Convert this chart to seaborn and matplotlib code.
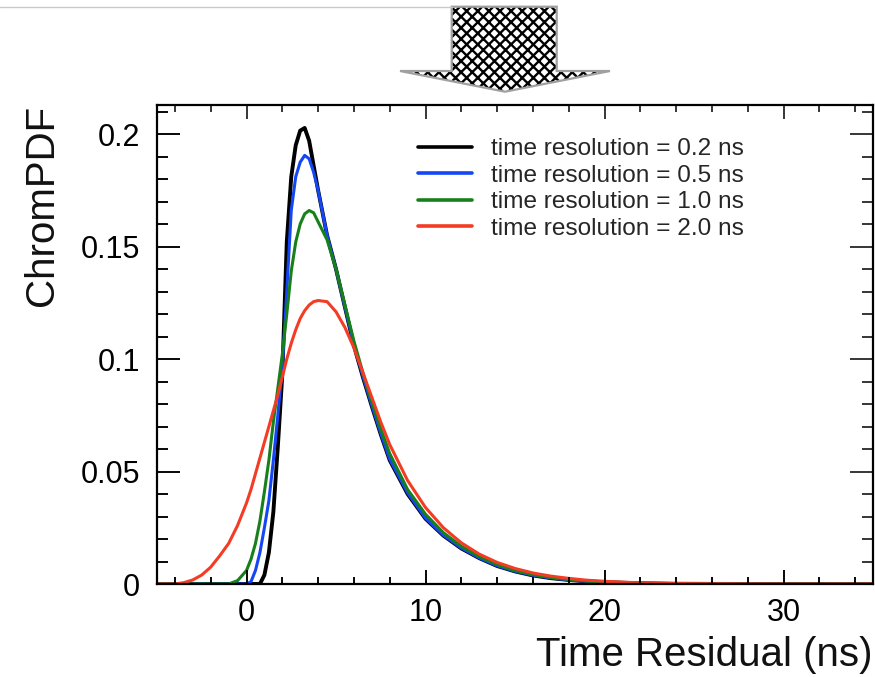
import numpy as np
import pandas as pd
import matplotlib
matplotlib.use("Agg")
import matplotlib.pyplot as plt
import seaborn as sns
from matplotlib.patches import Polygon
from matplotlib.lines import Line2D
from matplotlib.ticker import MultipleLocator, FuncFormatter

# ---------------- data ----------------
time_residual = [-5, -4.5, -4, -3.5, -3, -2.5, -2, -1.5, -1, -0.5,
                 0, 0.25, 0.5, 0.75, 1.0, 1.25, 1.5, 1.75, 2.0, 2.25, 2.5, 2.75,
                 3.0, 3.25, 3.5, 3.75, 4.0,
                 4.5, 5.0, 5.5, 6.0, 6.5, 7.0, 7.5, 8.0,
                 9, 10, 11, 12, 13, 14, 15, 16, 17, 18, 19, 20,
                 22, 24, 26, 28, 30, 32, 35]

pdf_res_02 = [0, 0, 0, 0, 0, 0, 0, 0, 0, 0,
              0, 0, 0, 0, 0.004, 0.014, 0.032, 0.061, 0.093, 0.152, 0.181, 0.195,
              0.2015, 0.2027, 0.197, 0.186, 0.175,
              0.155, 0.140, 0.123, 0.106, 0.092, 0.079, 0.0665, 0.055,
              0.040, 0.029, 0.0215, 0.0158, 0.0115, 0.0080, 0.0056, 0.0038, 0.0026, 0.0018, 0.0012, 0.0008,
              0.0003, 0.0001, 0.00004, 0.00001, 0, 0, 0]

pdf_res_05 = [0, 0, 0, 0, 0, 0, 0, 0, 0, 0,
              0, 0.001, 0.006, 0.014, 0.025, 0.037, 0.055, 0.075, 0.096, 0.130, 0.166, 0.181,
              0.1875, 0.1905, 0.189, 0.183, 0.175,
              0.155, 0.140, 0.123, 0.1065, 0.0925, 0.0795, 0.067, 0.0555,
              0.0405, 0.0293, 0.0217, 0.016, 0.0116, 0.0081, 0.0057, 0.0039, 0.0027, 0.0018, 0.0012, 0.0008,
              0.0003, 0.0001, 0.00004, 0.00001, 0, 0, 0]

pdf_res_10 = [0, 0, 0, 0, 0, 0, 0, 0, 0, 0.0015,
              0.006, 0.011, 0.018, 0.028, 0.041, 0.055, 0.072, 0.087, 0.102, 0.120, 0.139, 0.152,
              0.160, 0.1645, 0.166, 0.165, 0.161,
              0.153, 0.140, 0.124, 0.108, 0.094, 0.081, 0.069, 0.058,
              0.042, 0.031, 0.0228, 0.0168, 0.0122, 0.0086, 0.0060, 0.0042, 0.0029, 0.0020, 0.0013, 0.0009,
              0.0004, 0.00015, 0.00005, 0.00002, 0, 0, 0]

pdf_res_20 = [0, 0, 0, 0.0006, 0.0018, 0.004, 0.0075, 0.0125, 0.018, 0.026,
              0.036, 0.042, 0.049, 0.056, 0.063, 0.070, 0.077, 0.084, 0.092, 0.100, 0.107, 0.113,
              0.118, 0.1215, 0.124, 0.1255, 0.126,
              0.1255, 0.121, 0.114, 0.105, 0.094, 0.083, 0.072, 0.062,
              0.046, 0.034, 0.025, 0.0183, 0.0133, 0.0096, 0.0069, 0.0049, 0.0035, 0.0025, 0.0017, 0.0012,
              0.0005, 0.0002, 0.0001, 0.00003, 0, 0, 0]

series_labels = ["time resolution = 0.2 ns", "time resolution = 0.5 ns",
                 "time resolution = 1.0 ns", "time resolution = 2.0 ns"]
series_colors = ["#000000", "#1446f5", "#17801a", "#f43c24"]
x_label = "Time Residual (ns)"
y_label = "ChromPDF"

# ---------------- styling ----------------
sns.set_theme(style="ticks")
plt.rcParams["font.family"] = ["Liberation Sans", "DejaVu Sans"]
plt.rcParams["hatch.linewidth"] = 1.7

fig = plt.figure(figsize=(8.75, 6.77), dpi=100)
W, H = 875.0, 677.0
ax_h_px, ax_w_px = 584 - 105, 873 - 157
ax = fig.add_axes([157 / W, 1 - 584 / H, ax_w_px / W, ax_h_px / H])
ax.set_axisbelow(False)

frames = []
for lab, vals in zip(series_labels, [pdf_res_02, pdf_res_05, pdf_res_10, pdf_res_20]):
    frames.append(pd.DataFrame({"t": time_residual, "pdf": vals, "series": lab}))
df = pd.concat(frames, ignore_index=True)

handles = []
for lab, col, lw in zip(series_labels, series_colors, [2.8, 2.2, 2.2, 2.2]):
    sub = df[df["series"] == lab]
    sns.lineplot(data=sub, x="t", y="pdf", ax=ax, color=col, lw=lw, label=lab,
                 sort=False, estimator=None)
    handles.append(ax.lines[-1])

for s in ax.spines.values():
    s.set_edgecolor("black")
    s.set_linewidth(1.6)

ax.set_xlabel(x_label, fontsize=29, loc="right", labelpad=6, color="#111111")
ax.set_ylabel(y_label, fontsize=29, loc="top", labelpad=14, color="#111111")

leg = ax.legend(handles=handles, labels=series_labels, loc="upper left",
                bbox_to_anchor=((418 - 157) / 716, (584 - 138) / 479),
                frameon=False, fontsize=17.6, handlelength=2.2, handletextpad=0.8,
                labelspacing=0.18, borderpad=0, borderaxespad=0)
for line in leg.get_lines():
    line.set_linewidth(2.6)

# ---------------- decorative arrow at the top ----------------
def fpt(px, py):
    return (px / W, 1 - py / H)

arrow_pts = [fpt(451.7, 6.7), fpt(556.7, 6.7), fpt(556.7, 71), fpt(610, 71),
             fpt(505, 91.7), fpt(400, 71), fpt(451.7, 71)]
fig.add_artist(Polygon(arrow_pts, closed=True, transform=fig.transFigure,
                       facecolor="white", edgecolor="black", hatch="xxx", lw=0))
fig.add_artist(Polygon(arrow_pts, closed=True, transform=fig.transFigure,
                       facecolor="none", edgecolor="#a0a0a0", lw=1.6))
fig.add_artist(Line2D([0, 451.7 / W], [1 - 6.7 / H, 1 - 6.7 / H],
                      transform=fig.transFigure, color="#c8c8c8", lw=1))

# ---------------- axes limits and ticks ----------------
ax.set_xlim(-5, 35)
ax.set_ylim(0, 0.2129)
ax.xaxis.set_major_locator(MultipleLocator(10))
ax.xaxis.set_minor_locator(MultipleLocator(2))
ax.yaxis.set_major_locator(MultipleLocator(0.05))
ax.yaxis.set_minor_locator(MultipleLocator(0.01))
ax.yaxis.set_major_formatter(FuncFormatter(lambda v, p: "%g" % round(v, 3)))

ax.tick_params(which="both", direction="in", top=True, right=True, bottom=True, left=True,
               colors="black", width=1.1, labelsize=22)
ax.tick_params(axis="x", which="major", length=10, pad=10)
ax.tick_params(axis="x", which="minor", length=5)
ax.tick_params(axis="y", which="major", length=16.5, pad=12)
ax.tick_params(axis="y", which="minor", length=8)

# reinforce the inward ticks on the bottom and left edges (positions from the locators)
def _in_range(vals, lo, hi):
    return [v for v in vals if lo - 1e-9 <= v <= hi + 1e-9]

x_lo, x_hi = ax.get_xlim()
y_lo, y_hi = ax.get_ylim()
xt_major = _in_range(ax.xaxis.get_majorticklocs(), x_lo, x_hi)
xt_minor = _in_range(ax.xaxis.get_minorticklocs(), x_lo, x_hi)
yt_major = _in_range(ax.yaxis.get_majorticklocs(), y_lo, y_hi)
yt_minor = _in_range(ax.yaxis.get_minorticklocs(), y_lo, y_hi)
xtrans = ax.get_xaxis_transform()
ytrans = ax.get_yaxis_transform()
ax.vlines(xt_major, 0, 14 / ax_h_px, transform=xtrans, colors="black", lw=1.1,
          clip_on=False, zorder=6)
ax.vlines(xt_minor, 0, 7 / ax_h_px, transform=xtrans, colors="black", lw=1.1,
          clip_on=False, zorder=6)
ax.hlines(yt_major, 0, 23 / ax_w_px, transform=ytrans, colors="black", lw=1.1,
          clip_on=False, zorder=6)
ax.hlines(yt_minor, 0, 11 / ax_w_px, transform=ytrans, colors="black", lw=1.1,
          clip_on=False, zorder=6)
ax.set_xlim(x_lo, x_hi)
ax.set_ylim(y_lo, y_hi)

fig.savefig("out.png", dpi=100)
